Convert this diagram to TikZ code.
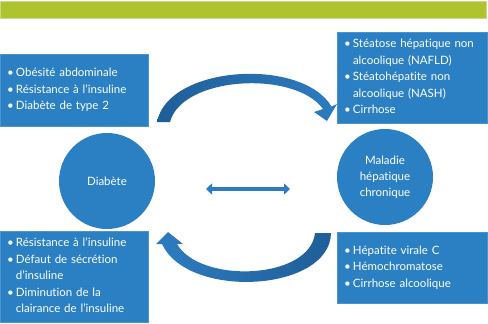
\documentclass[tikz,border=0pt]{standalone}
\usepackage{fontspec}
\setmainfont{Lato}[Ligatures=NoCommon]
\usetikzlibrary{arrows.meta}
\definecolor{boxblue}{HTML}{2A80C3}
\definecolor{boxedge}{HTML}{4A93CC}
\definecolor{bargreen}{HTML}{AFC42C}
\definecolor{baredge}{HTML}{CBD98A}
\definecolor{arrdark}{HTML}{1F5E98}
\definecolor{arrlight}{HTML}{2D7CC0}
\newcommand\bu{\makebox[9pt][l]{•}}
\tikzset{
  infobox/.style={rectangle, fill=boxblue, draw=boxedge, line width=0.6pt,
    text=white, inner xsep=7pt, inner ysep=0pt,
    font=\fontsize{11.5pt}{16.5pt}\selectfont},
  roundnode/.style={circle, fill=boxblue, text=white, minimum size=96pt,
    inner sep=0pt, align=center, font=\fontsize{11.5pt}{16pt}\selectfont},
}
\begin{document}
\begin{tikzpicture}[x=1pt,y=-1pt]
\useasboundingbox (0,0) rectangle (488,324);
\fill[white] (0,0) rectangle (488,324);
% green bar
\fill[bargreen, draw=baredge, line width=0.8pt] (0,1) rectangle (486,18);
% boxes
\node[infobox, minimum width=148pt, minimum height=72pt, text width=134pt] (tl) at (74,90)
 {\noindent\begin{tabular}{@{}l@{}l@{}}
 \bu & Obésité abdominale\\
 \bu & Résistance à l’insuline\\
 \bu & Diabète de type 2
 \end{tabular}};
\node[infobox, minimum width=150pt, minimum height=91pt, text width=136pt] (tr) at (412,77.5)
 {\noindent\begin{tabular}{@{}l@{}l@{}}
 \bu & Stéatose hépatique non\\
  & alcoolique (NAFLD)\\
 \bu & Stéatohépatite non\\
  & alcoolique (NASH)\\
 \bu & Cirrhose
 \end{tabular}};
\node[infobox, minimum width=148pt, minimum height=91pt, text width=134pt] (bl) at (74,276.5)
 {\noindent\begin{tabular}{@{}l@{}l@{}}
 \bu & Résistance à l’insuline\\
 \bu & Défaut de sécrétion\\
  & d’insuline\\
 \bu & Diminution de la\\
  & clairance de l’insuline
 \end{tabular}};
\node[infobox, minimum width=150pt, minimum height=71pt, text width=136pt] (br) at (412,267.5)
 {\noindent\begin{tabular}{@{}l@{}l@{}}
 \bu & Hépatite virale C\\
 \bu & Hémochromatose\\
 \bu & Cirrhose alcoolique
 \end{tabular}};
% circles
\node[roundnode] (diab) at (107,181) {Diabète};
\node[roundnode] (foie) at (385,177) {Maladie\\hépatique\\chronique};
% curved block arrows
\shade[left color=arrdark, right color=arrlight]
  (157,122) .. controls (168,65) and (302,57) .. (331.5,106.5)
  -- (337,104) -- (327,121) -- (314,112) -- (323,109)
  .. controls (295,70) and (182,76) .. (170,122) -- cycle;
\shade[left color=arrlight, right color=arrdark]
  (331,233) .. controls (330,292) and (188,300) .. (162,244)
  -- (156,244) -- (168,232) -- (183,244) -- (177,244)
  .. controls (200,284) and (310,280) .. (315,233) -- cycle;
% double arrow
\coordinate (da) at (206,189);
\coordinate (db) at (290,189);
\draw[arrlight, line width=4.5pt,
  {Triangle[length=6pt,width=11pt]}-{Triangle[length=6pt,width=11pt]}] (da) -- (db);
\end{tikzpicture}
\end{document}
